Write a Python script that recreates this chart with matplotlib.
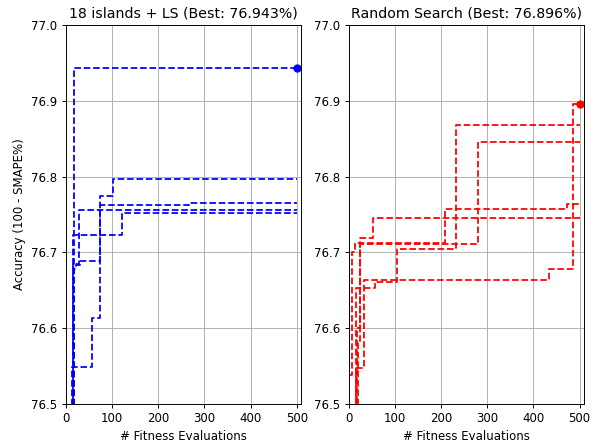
import matplotlib.pyplot as plt
import numpy as np

# step points (evaluation, accuracy)
islands_x = [
    [0, 18, 500],
    [0, 14, 56, 74, 102, 500],
    [0, 17, 23, 32, 74, 267, 500],
    [0, 16, 29.5, 500],
    [0, 15, 122, 500],
]
islands_y = [
    [76.30, 76.943, 76.943],
    [76.40, 76.549, 76.613, 76.774, 76.797, 76.797],
    [76.40, 76.678, 76.683, 76.689, 76.763, 76.765, 76.765],
    [76.45, 76.685, 76.756, 76.756],
    [76.40, 76.723, 76.752, 76.752],
]

random_x = [
    [0, 16, 33, 433, 486, 500],
    [0, 16, 57, 105, 233, 500],
    [0, 20, 25, 53, 500],
    [0, 6.5, 14, 208, 473, 500],
    [0, 17, 24, 280, 500],
]
random_y = [
    [76.40, 76.548, 76.664, 76.678, 76.896, 76.896],
    [76.45, 76.653, 76.661, 76.705, 76.868, 76.868],
    [76.40, 76.582, 76.719, 76.745, 76.745],
    [76.538, 76.700, 76.713, 76.757, 76.764, 76.764],
    [76.45, 76.600, 76.711, 76.845, 76.845],
]

titles = ["18 islands + LS (Best: 76.943%)", "Random Search (Best: 76.896%)"]
yticks = [76.5, 76.6, 76.7, 76.8, 76.9, 77.0]

fig = plt.figure(figsize=(601 / 85, 442 / 85), dpi=85)
ax1 = fig.add_axes([0.1093, 0.086, 0.3915, 0.8574])
ax2 = fig.add_axes([0.5802, 0.086, 0.3910, 0.8574])

for ax, xs, ys, col, title in [(ax1, islands_x, islands_y, "b", titles[0]),
                               (ax2, random_x, random_y, "r", titles[1])]:
    best = 0
    bi = 0
    for i in range(len(xs)):
        ax.plot(xs[i], ys[i], "--", color=col, lw=1.5, drawstyle="steps-post")
        if ys[i][-1] > best:
            best = ys[i][-1]
            bi = i
    ax.plot(xs[bi][-1], ys[bi][-1], "o", color=col, ms=6)
    ax.set_title(title, fontsize=12)
    ax.set_xlabel("# Fitness Evaluations")
    ax.set_xlim(0, 509)
    ax.set_ylim(76.5, 77.0)
    ax.set_xticks([0, 100, 200, 300, 400, 500])
    ax.set_yticks(yticks)
    ax.grid(True)

ax1.set_ylabel("Accuracy (100 - SMAPE%)")

plt.savefig("out.png")
